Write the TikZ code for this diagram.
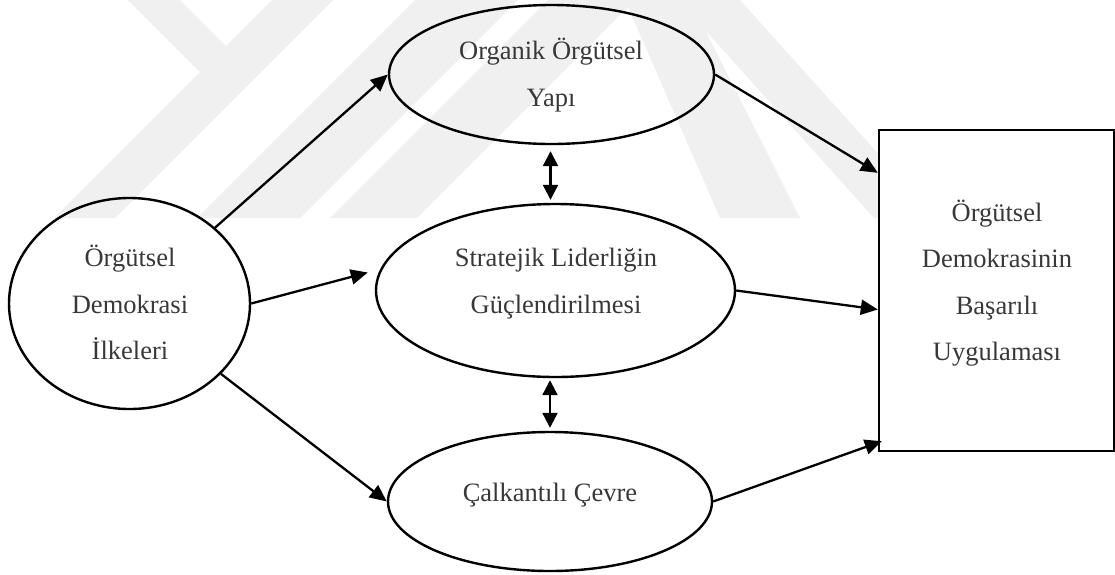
\documentclass[tikz,border=0pt]{standalone}
\usepackage{fontspec}
\setmainfont{Liberation Serif}
\usetikzlibrary{shapes.geometric,arrows.meta,calc}
\definecolor{inkgray}{HTML}{383838}
\definecolor{markgray}{HTML}{F0F0F0}
\begin{document}
\begin{tikzpicture}[x=1pt,y=-1pt,
  oval/.style={ellipse, draw, line width=2.4pt, inner sep=0pt},
  box/.style={rectangle, draw, line width=2.4pt, fill=white, inner sep=0pt},
  txt/.style={text=inkgray, align=center, inner sep=0pt,
              font=\fontsize{26.5}{46.5}\selectfont},
  arr/.style={line width=2.3pt, -{Triangle[length=17pt,width=15pt]}},
  dbl/.style={line width=2.3pt,
              {Triangle[length=15pt,width=15pt]}-{Triangle[length=15pt,width=15pt]}},
  wmark/.style={fill=markgray, draw=none}]
\useasboundingbox (0,0) rectangle (1115,574);

% faint background emblem
\fill[wmark] (128,0) -- (180,0) -- (226,46) -- (200,72) -- cycle;
\fill[wmark] (272,0) -- (333,0) -- (115,218) -- (54,218) -- cycle;
\fill[wmark] (415,0) -- (518,0) -- (300,218) -- (197,218) -- cycle;
\fill[wmark] (548,0) -- (635,0) -- (417,218) -- (330,218) -- cycle;
\fill[wmark] (625,0) -- (690,0) -- (800,218) -- (720,218) -- cycle;
\fill[wmark] (678,0) -- (740,0) -- (936,218) -- (874,218) -- cycle;

% shapes
\node[oval, minimum width=241pt, minimum height=211pt] (circ) at (129.5,303.5) {};
\node[oval, minimum width=325pt, minimum height=139pt] (top) at (551.5,74.5) {};
\node[oval, minimum width=359pt, minimum height=173pt] (mid) at (555.5,290.5) {};
\node[oval, minimum width=324pt, minimum height=139pt] (bot) at (550,501.5) {};
\node[box, minimum width=235pt, minimum height=321pt] (rect) at (996.5,290.5) {};

% labels
\node[txt] (circ-t) at (130,302.5) {Örgütsel\\Demokrasi\\İlkeleri};
\node[txt] (top-t) at (551,75) {Organik Örgütsel\\Yapı};
\node[txt] (mid-t) at (556,283.5) {Stratejik Liderliğin\\Güçlendirilmesi};
\node[txt] (bot-t) at (550,495) {Çalkantılı Çevre};
\node[txt] (rect-t) at (997,283) {Örgütsel\\Demokrasinin\\Başarılı\\Uygulaması};

% connectors
\draw[arr] (circ) -- (top.west);
\draw[arr] (circ.east) -- ($(mid.west)+(-7,-18)$);
\draw[arr] (circ) -- (bot.west);
\draw[arr] (top.east) -- ($(rect.north west)+(0,44)$);
\draw[arr] (mid.east) -- ($(rect.west)+(0,19)$);
\draw[arr] (bot.east) -- ($(rect.south west)+(4,-11)$);
\draw[dbl] ($(top.south)+(-1,6)$) -- ($(top.south |- mid.north)+(-1,-3)$);
\draw[dbl] ($(bot.north |- mid.south)+(0,2)$) -- ($(bot.north)+(0,-3)$);
\end{tikzpicture}
\end{document}
